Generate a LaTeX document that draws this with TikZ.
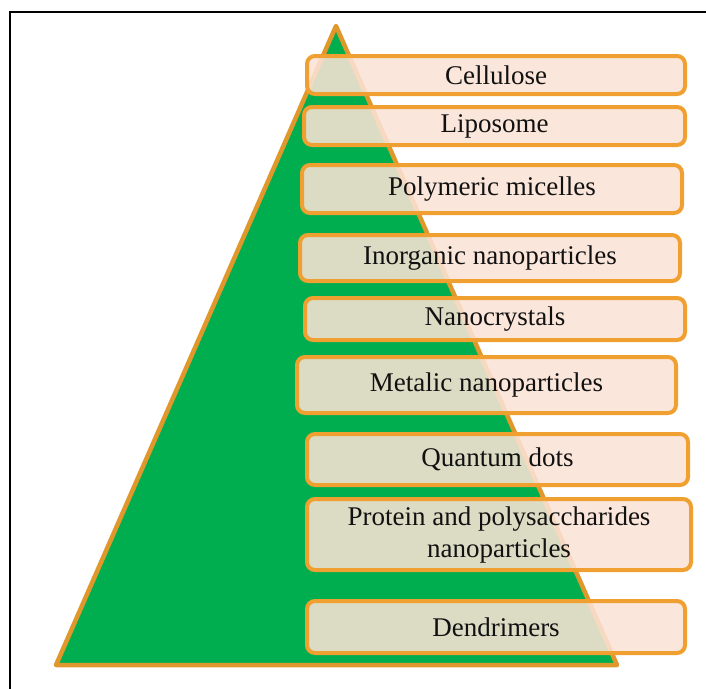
\documentclass[tikz,border=0pt]{standalone}
\usepackage{fontspec}
\setmainfont{Liberation Serif}
\newfontfamily\layerfont{Liberation Serif}
\definecolor{pgreen}{HTML}{00AE4F}
\definecolor{porange}{HTML}{EFA030}
\definecolor{pedge}{HTML}{E0982C}
\definecolor{ppeach}{HTML}{FBE3D6}
\definecolor{ptext}{HTML}{111111}
\tikzset{
  layerbox/.style={draw=porange, line width=4pt, rounded corners=8pt,
    fill=ppeach, fill opacity=0.88, text opacity=1, text=ptext,
    inner sep=0pt, align=center,
    font=\layerfont\fontsize{27}{32}\selectfont},
}
\begin{document}
\begin{tikzpicture}[x=1pt,y=-1pt]
\useasboundingbox (0,0) rectangle (706,688);
\begin{scope}
\clip (0,0) rectangle (706,688);
\draw[line width=2.4pt, black] (10,12) rectangle (730,720);
\end{scope}
% pyramid
\coordinate (apex) at (336,26);
\coordinate (bl) at (56,665);
\coordinate (br) at (617,665);
\draw[fill=pgreen, draw=pedge, line width=4.5pt, line join=round] (apex) -- (br) -- (bl) -- cycle;
% layers
\node[layerbox, minimum width=378pt, minimum height=38pt] (cel) at (496,75) {Cellulose};
\node[layerbox, minimum width=381pt, minimum height=38pt] (lip) at (494.5,126) {Liposome};
\node[layerbox, minimum width=380pt, minimum height=48pt] (pol) at (492,189) {Polymeric micelles};
\node[layerbox, minimum width=380pt, minimum height=46pt] (ino) at (490,258) {Inorganic nanoparticles};
\node[layerbox, minimum width=380pt, minimum height=42pt] (nan) at (495,319) {Nanocrystals};
\node[layerbox, minimum width=379pt, minimum height=56pt] (met) at (486.5,385) {Metalic nanoparticles};
\node[layerbox, minimum width=381pt, minimum height=51pt] (qua) at (497.5,459.5) {Quantum dots};
\node[layerbox, minimum width=384pt, minimum height=71pt] (pro) at (499,534.5) {Protein and polysaccharides\\nanoparticles};
\node[layerbox, minimum width=378pt, minimum height=52pt] (den) at (496,627) {Dendrimers};
\end{tikzpicture}
\end{document}
